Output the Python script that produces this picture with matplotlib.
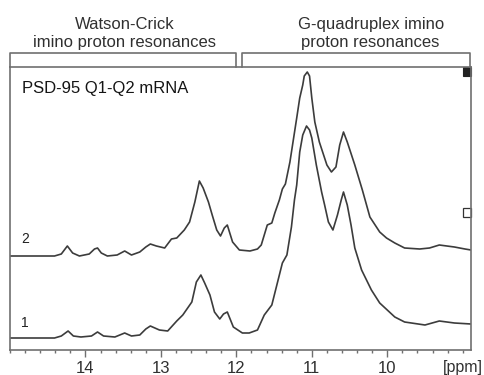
import matplotlib
matplotlib.use("Agg")
import matplotlib.pyplot as plt
from matplotlib.patches import Rectangle
from matplotlib.lines import Line2D
import numpy as np

plt.rcParams['font.family'] = ['Liberation Sans', 'DejaVu Sans']

# ---- data (ppm, intensity in arbitrary units) ----
ppm2 = [15.01, 14.61, 14.41, 14.32, 14.24, 14.17, 14.08, 13.95, 13.88, 13.84,
        13.79, 13.71, 13.58, 13.48, 13.39, 13.28, 13.20, 13.14, 13.06, 12.95,
        12.86, 12.79, 12.69, 12.62, 12.55, 12.49, 12.44, 12.37, 12.32, 12.26,
        12.21, 12.16, 12.12, 12.05, 11.96, 11.82, 11.72, 11.67, 11.59, 11.53,
        11.49, 11.43, 11.39, 11.35, 11.29, 11.20, 11.16, 11.12, 11.10, 11.06,
        11.03, 11.00, 10.96, 10.90, 10.80, 10.74, 10.68, 10.63, 10.58, 10.53,
        10.43, 10.33, 10.23, 10.10, 10.01, 9.90, 9.77, 9.57, 9.44, 9.31,
        9.11, 8.97, 8.89]
int2 = [94, 94, 94, 96, 104, 97, 94, 96, 101, 102,
        97, 94, 95, 99, 95, 98, 103, 106, 104, 102,
        111, 112, 120, 128, 148, 169, 162, 148, 135, 120,
        114, 122, 125, 108, 100, 99, 101, 105, 125, 127,
        137, 150, 161, 166, 188, 232, 252, 265, 274, 278,
        274, 252, 228, 208, 185, 178, 183, 205, 218, 208,
        185, 160, 133, 118, 112, 107, 102, 101, 102, 105,
        103, 101, 100]

ppm1 = [15.01, 14.41, 14.32, 14.23, 14.16, 14.06, 13.92, 13.84, 13.76, 13.61,
        13.48, 13.39, 13.28, 13.20, 13.14, 13.02, 12.91, 12.79, 12.71, 12.59,
        12.53, 12.47, 12.42, 12.35, 12.29, 12.22, 12.17, 12.12, 12.04, 11.92,
        11.83, 11.72, 11.63, 11.53, 11.47, 11.39, 11.33, 11.27, 11.23, 11.20,
        11.16, 11.12, 11.07, 11.03, 11.00, 10.94, 10.87, 10.83, 10.78, 10.72,
        10.66, 10.61, 10.58, 10.53, 10.48, 10.43, 10.34, 10.21, 10.10, 10.00,
        9.90, 9.77, 9.50, 9.31, 9.11, 8.89]
int1 = [12, 12, 14, 19, 14, 13, 14, 18, 14, 13,
        17, 14, 15, 21, 24, 20, 19, 29, 35, 48,
        68, 75, 67, 55, 38, 31, 36, 38, 23, 17,
        17, 20, 35, 45, 63, 87, 95, 123, 150, 165,
        198, 215, 224, 220, 212, 185, 158, 145, 128, 120,
        135, 150, 158, 145, 125, 102, 80, 60, 47, 40,
        33, 28, 25, 29, 27, 26]

xticks_major = [14, 13, 12, 11, 10]
bracket_ranges = [(15.0, 12.01), (11.93, 8.9)]
bracket_texts = ["Watson-Crick\nimino proton resonances",
                 "G-quadruplex imino\nproton resonances"]
bracket_text_x = [13.48, 10.22]

W, H = 485, 375
fig = plt.figure(figsize=(W / 100, H / 100), dpi=100)
ax = fig.add_axes([10 / W, (H - 350) / H, 461 / W, 283 / H])

line_color = '#3c3c3c'
spine_color = '#707070'
text_color = '#303030'
ax.plot(ppm2, int2, color=line_color, lw=1.2)
ax.plot(ppm1, int1, color=line_color, lw=1.2)

ax.set_xlim(15.0, 8.89)
ax.set_ylim(0, 283)
ax.set_yticks([])
ax.set_xticks(xticks_major)
ax.set_xticklabels([str(t) for t in xticks_major])
ax.set_xticks(np.arange(9.0, 15.01, 0.2), minor=True)
ax.tick_params(axis='x', which='major', direction='out', length=5, width=1.0,
               color=spine_color, labelsize=12, pad=3, labelcolor=text_color)
ax.tick_params(axis='x', which='minor', direction='out', length=2.5, width=1.0,
               color=spine_color)
for s in ax.spines.values():
    s.set_color(spine_color)
    s.set_linewidth(1.2)

ax.text(1.026, -0.062, "[ppm]", transform=ax.transAxes, ha='right',
        va='center', fontsize=11.5, color=text_color)

ax.text(0.026, 0.925, "PSD-95 Q1-Q2 mRNA", transform=ax.transAxes,
        ha='left', va='center', fontsize=12, color='#151515')
ax.text(0.033, 0.392, "2", transform=ax.transAxes, ha='center', va='center',
        fontsize=10, color='#202020')
ax.text(0.033, 0.095, "1", transform=ax.transAxes, ha='center', va='center',
        fontsize=10, color='#202020')

# markers at right edge
ax.add_patch(Rectangle((0.983, 0.967), 0.017, 0.033, transform=ax.transAxes,
                       facecolor='#222222', edgecolor='#222222', lw=0.8,
                       clip_on=False))
ax.add_patch(Rectangle((0.983, 0.47), 0.017, 0.032, transform=ax.transAxes,
                       facecolor='white', edgecolor='#333333', lw=0.9,
                       clip_on=False))

# brackets above the box
trans = ax.get_xaxis_transform()
ytop = 1.049
for (a, b), txt, tx in zip(bracket_ranges, bracket_texts, bracket_text_x):
    ax.add_line(Line2D([a, a, b, b], [1.0, ytop, ytop, 1.0], transform=trans,
                       color=spine_color, lw=1.2, clip_on=False))
    ax.text(tx, 1.117, txt, transform=trans, ha='center', va='center',
            fontsize=12, color=text_color, linespacing=1.25)

fig.savefig("out.png", dpi=100)
